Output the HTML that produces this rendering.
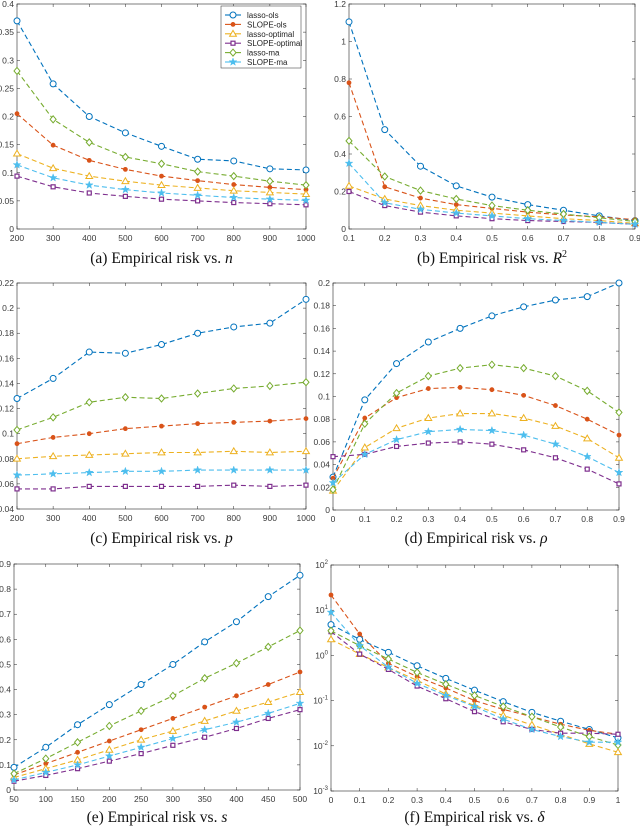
<!DOCTYPE html>
<html><head><meta charset="utf-8"><style>
html,body{margin:0;padding:0;background:#fff;}
svg{display:block;}
.tk{font-family:"Liberation Sans",sans-serif;font-size:8.5px;fill:#3a3a3a;}
.cap{font-family:"Liberation Serif",serif;font-size:15.5px;fill:#111;}
.lg{font-family:"Liberation Sans",sans-serif;font-size:8px;fill:#222;}
</style></head><body>
<svg id="fig" width="640" height="828" viewBox="0 0 640 828" xmlns="http://www.w3.org/2000/svg"></svg>
<script>
const seriesNames = ["lasso-ols","SLOPE-ols","lasso-optimal","SLOPE-optimal","lasso-ma","SLOPE-ma"];
const seriesColors = ["#0072BD","#D95319","#EDB120","#7E2F8E","#77AC30","#4DBEEE"];
const seriesMarkers = ["circle","dot","triangle","square","diamond","star"];

// (a) vs n
const aX = [200,300,400,500,600,700,800,900,1000];
const aLassoOls = [0.37,0.258,0.2,0.171,0.147,0.124,0.121,0.107,0.105];
const aSlopeOls = [0.205,0.149,0.122,0.106,0.094,0.086,0.079,0.074,0.07];
const aLassoOpt = [0.134,0.108,0.094,0.085,0.078,0.073,0.068,0.065,0.062];
const aSlopeOpt = [0.094,0.075,0.064,0.058,0.053,0.05,0.047,0.045,0.043];
const aLassoMa = [0.281,0.195,0.154,0.128,0.116,0.102,0.094,0.085,0.078];
const aSlopeMa = [0.114,0.091,0.078,0.07,0.064,0.06,0.056,0.053,0.051];
const aYTicks = [0,0.05,0.1,0.15,0.2,0.25,0.3,0.35,0.4];
const aXTicks = [200,300,400,500,600,700,800,900,1000];

// (b) vs R^2
const bX = [0.1,0.2,0.3,0.4,0.5,0.6,0.7,0.8,0.9];
const bLassoOls = [1.105,0.53,0.335,0.23,0.17,0.13,0.1,0.07,0.045];
const bSlopeOls = [0.78,0.225,0.165,0.13,0.11,0.09,0.075,0.065,0.05];
const bLassoOpt = [0.23,0.16,0.125,0.1,0.085,0.07,0.055,0.045,0.03];
const bSlopeOpt = [0.2,0.125,0.09,0.07,0.055,0.045,0.04,0.035,0.025];
const bLassoMa = [0.47,0.28,0.205,0.16,0.125,0.1,0.08,0.06,0.04];
const bSlopeMa = [0.35,0.14,0.105,0.085,0.07,0.055,0.045,0.035,0.025];
const bYTicks = [0,0.2,0.4,0.6,0.8,1,1.2];
const bXTicks = [0.1,0.2,0.3,0.4,0.5,0.6,0.7,0.8,0.9];

// (c) vs p
const cX = [200,300,400,500,600,700,800,900,1000];
const cLassoOls = [0.128,0.144,0.165,0.164,0.171,0.180,0.185,0.188,0.207];
const cSlopeOls = [0.092,0.097,0.100,0.104,0.106,0.108,0.109,0.110,0.112];
const cLassoOpt = [0.080,0.082,0.083,0.084,0.085,0.085,0.086,0.085,0.086];
const cSlopeOpt = [0.056,0.056,0.058,0.058,0.058,0.058,0.059,0.058,0.059];
const cLassoMa = [0.103,0.113,0.125,0.129,0.128,0.132,0.136,0.138,0.141];
const cSlopeMa = [0.067,0.068,0.069,0.070,0.070,0.071,0.071,0.071,0.071];
const cYTicks = [0.04,0.06,0.08,0.1,0.12,0.14,0.16,0.18,0.2,0.22];
const cXTicks = [200,300,400,500,600,700,800,900,1000];

// (d) vs rho
const dX = [0,0.1,0.2,0.3,0.4,0.5,0.6,0.7,0.8,0.9];
const dLassoOls = [0.029,0.097,0.129,0.148,0.160,0.171,0.179,0.185,0.188,0.2];
const dSlopeOls = [0.028,0.081,0.099,0.107,0.108,0.106,0.101,0.092,0.080,0.066];
const dLassoOpt = [0.017,0.055,0.072,0.081,0.085,0.085,0.081,0.074,0.063,0.046];
const dSlopeOpt = [0.047,0.049,0.056,0.059,0.060,0.058,0.053,0.046,0.036,0.023];
const dLassoMa = [0.018,0.076,0.103,0.118,0.125,0.128,0.125,0.118,0.105,0.086];
const dSlopeMa = [0.024,0.049,0.062,0.069,0.071,0.070,0.066,0.058,0.047,0.033];
const dYTicks = [0,0.02,0.04,0.06,0.08,0.1,0.12,0.14,0.16,0.18,0.2];
const dXTicks = [0,0.1,0.2,0.3,0.4,0.5,0.6,0.7,0.8,0.9];

// (e) vs s
const eX = [50,100,150,200,250,300,350,400,450,500];
const eLassoOls = [0.09,0.17,0.26,0.34,0.42,0.5,0.59,0.67,0.77,0.855];
const eSlopeOls = [0.06,0.105,0.15,0.195,0.24,0.285,0.33,0.375,0.42,0.47];
const eLassoOpt = [0.05,0.085,0.12,0.16,0.2,0.235,0.275,0.315,0.35,0.39];
const eSlopeOpt = [0.035,0.058,0.085,0.115,0.145,0.178,0.21,0.245,0.285,0.32];
const eLassoMa = [0.065,0.125,0.19,0.255,0.315,0.375,0.445,0.505,0.57,0.635];
const eSlopeMa = [0.04,0.07,0.1,0.135,0.17,0.205,0.24,0.27,0.305,0.345];
const eYTicks = [0,0.1,0.2,0.3,0.4,0.5,0.6,0.7,0.8,0.9];
const eXTicks = [50,100,150,200,250,300,350,400,450,500];

// (f) vs delta (log y)
const fX = [0,0.1,0.2,0.3,0.4,0.5,0.6,0.7,0.8,0.9,1];
const fLassoOls = [4.8,2.26,1.17,0.59,0.31,0.17,0.095,0.055,0.035,0.023,0.015];
const fSlopeOls = [21.7,2.97,0.67,0.34,0.19,0.10,0.064,0.044,0.030,0.022,0.018];
const fLassoOpt = [2.26,1.07,0.54,0.28,0.14,0.078,0.047,0.029,0.018,0.011,0.0072];
const fSlopeOpt = [3.35,1.07,0.49,0.21,0.11,0.057,0.034,0.023,0.019,0.019,0.018];
const fLassoMa = [3.5,1.64,0.83,0.42,0.23,0.13,0.074,0.044,0.026,0.016,0.0104];
const fSlopeMa = [8.97,1.64,0.55,0.24,0.13,0.074,0.039,0.023,0.016,0.012,0.012];
const fYTicks = [-3,-2,-1,0,1,2];
const fXTicks = [0,0.1,0.2,0.3,0.4,0.5,0.6,0.7,0.8,0.9,1];

const NS = "http://www.w3.org/2000/svg";
const fig = document.getElementById('fig');
function mk(tag, attrs, parent){ const e=document.createElementNS(NS,tag); for(const k in attrs) e.setAttribute(k,attrs[k]); (parent||fig).appendChild(e); return e; }

function marker(g, type, x, y, c){
  let m;
  if(type==="circle") m=mk('circle',{cx:x,cy:y,r:3,fill:'#fff',stroke:c,'stroke-width':1},g);
  else if(type==="dot") m=mk('circle',{cx:x,cy:y,r:2,fill:c,stroke:c,'stroke-width':0.8},g);
  else if(type==="triangle") m=mk('polygon',{points:`${x},${y-3.4} ${x-3.4},${y+2.4} ${x+3.4},${y+2.4}`,fill:'#fff',stroke:c,'stroke-width':1},g);
  else if(type==="square") m=mk('rect',{x:x-2,y:y-2,width:4,height:4,fill:'#fff',stroke:c,'stroke-width':1.2},g);
  else if(type==="diamond") m=mk('polygon',{points:`${x},${y-3.5} ${x+3},${y} ${x},${y+3.5} ${x-3},${y}`,fill:'#fff',stroke:c,'stroke-width':1},g);
  else { let p=''; for(let i=0;i<10;i++){const r=i%2?1.6:4; const a=-Math.PI/2+i*Math.PI/5; p+=`${x+r*Math.cos(a)},${y+r*Math.sin(a)} `;} m=mk('polygon',{points:p,fill:c,stroke:c,'stroke-width':0.5},g); }
  return m;
}

function panel(o){
  const g = mk('g',{});
  
  
  const {L,R,T,B} = o;
  const sx = v => L + (v - o.xmin)/(o.xmax - o.xmin)*(R-L);
  const sy = o.log ? v => B - (Math.log10(v) - o.ymin)/(o.ymax - o.ymin)*(B-T)
                   : v => B - (v - o.ymin)/(o.ymax - o.ymin)*(B-T);
  mk('rect',{x:L,y:T,width:R-L,height:B-T,fill:'#fff',stroke:'#262626','stroke-width':0.6},g);
  // x ticks
  o.xticks.forEach(v=>{
    const x=sx(v);
    mk('line',{x1:x,y1:B,x2:x,y2:B-3,stroke:'#262626','stroke-width':0.5},g);
    mk('line',{x1:x,y1:T,x2:x,y2:T+3,stroke:'#262626','stroke-width':0.5},g);
    const t=mk('text',{x:x,y:B+12,'text-anchor':'middle',class:'tk'},g); t.textContent=String(v);
    
    
  });
  o.yticks.forEach(v=>{
    const y = o.log ? B - (v - o.ymin)/(o.ymax-o.ymin)*(B-T) : sy(v);
    mk('line',{x1:L,y1:y,x2:L+3,y2:y,stroke:'#262626','stroke-width':0.5},g);
    mk('line',{x1:R,y1:y,x2:R-3,y2:y,stroke:'#262626','stroke-width':0.5},g);
    const t=mk('text',{x:L-3,y:y+3,'text-anchor':'end',class:'tk'},g);
    if(o.log){ t.textContent='10'; const s=mk('tspan',{dy:-4,'font-size':'6px'},t); s.textContent=String(v); }
    else t.textContent=String(v);
    
    
  });
  o.series.forEach((ys,i)=>{
    const c=seriesColors[i];
    const pts=o.x.map((xv,j)=>`${sx(xv)},${sy(ys[j])}`).join(' ');
    const pl=mk('polyline',{points:pts,fill:'none',stroke:c,'stroke-width':1.1,'stroke-dasharray':'5,3'},g);
    
    
    o.x.forEach((xv,j)=>{
      const m=marker(g,seriesMarkers[i],sx(xv),sy(ys[j]),c);
      
      
    });
  });
  const cap=mk('text',{x:(L+R)/2,y:o.capY,'text-anchor':'middle',class:'cap'},g);
  cap.textContent=o.cap+' ';
  const it=mk('tspan',{'font-style':'italic'},cap); it.textContent=o.capVar;
  if(o.capSup){ const s=mk('tspan',{dy:-6,'font-size':'10px'},cap); s.textContent=o.capSup; }
  
  
  return g;
}

panel({name:'panel-a',L:17,R:306,T:4,B:229,xmin:200,xmax:1000,ymin:0,ymax:0.4,x:aX,xticks:aXTicks,yticks:aYTicks,
  series:[aLassoOls,aSlopeOls,aLassoOpt,aSlopeOpt,aLassoMa,aSlopeMa],capY:263,cap:'(a) Empirical risk vs.',capVar:'n'});
panel({name:'panel-b',L:349,R:635,T:4,B:229,xmin:0.1,xmax:0.9,ymin:0,ymax:1.2,x:bX,xticks:bXTicks,yticks:bYTicks,
  series:[bLassoOls,bSlopeOls,bLassoOpt,bSlopeOpt,bLassoMa,bSlopeMa],capY:263,cap:'(b) Empirical risk vs.',capVar:'R',capSup:'2'});
panel({name:'panel-c',L:17,R:306,T:283,B:509,xmin:200,xmax:1000,ymin:0.04,ymax:0.22,x:cX,xticks:cXTicks,yticks:cYTicks,
  series:[cLassoOls,cSlopeOls,cLassoOpt,cSlopeOpt,cLassoMa,cSlopeMa],capY:543,cap:'(c) Empirical risk vs.',capVar:'p'});
panel({name:'panel-d',L:333,R:619,T:283,B:510,xmin:0,xmax:0.9,ymin:0,ymax:0.2,x:dX,xticks:dXTicks,yticks:dYTicks,
  series:[dLassoOls,dSlopeOls,dLassoOpt,dSlopeOpt,dLassoMa,dSlopeMa],capY:543,cap:'(d) Empirical risk vs.',capVar:'ρ'});
panel({name:'panel-e',L:14,R:300,T:564,B:790,xmin:50,xmax:500,ymin:0,ymax:0.9,x:eX,xticks:eXTicks,yticks:eYTicks,
  series:[eLassoOls,eSlopeOls,eLassoOpt,eSlopeOpt,eLassoMa,eSlopeMa],capY:822,cap:'(e) Empirical risk vs.',capVar:'s'});
panel({name:'panel-f',L:331,R:618,T:565,B:791,xmin:0,xmax:1,ymin:-3,ymax:2,log:true,x:fX,xticks:fXTicks,yticks:fYTicks,
  series:[fLassoOls,fSlopeOls,fLassoOpt,fSlopeOpt,fLassoMa,fSlopeMa],capY:822,cap:'(f) Empirical risk vs.',capVar:'δ'});

// legend in panel a
const lg=mk('g',{});


mk('rect',{x:221,y:6,width:80,height:62,fill:'#fff',stroke:'#262626','stroke-width':0.5},lg);
seriesNames.forEach((n,i)=>{
  const y=15+i*9.4, c=seriesColors[i];
  const e=mk('g',{},lg);
  
  
  mk('line',{x1:225,y1:y,x2:241,y2:y,stroke:c,'stroke-width':1.1},e);
  marker(e,seriesMarkers[i],233,y,c);
  const t=mk('text',{x:247,y:y+3,class:'lg'},e); t.textContent=n;
});
</script>
</body></html>
